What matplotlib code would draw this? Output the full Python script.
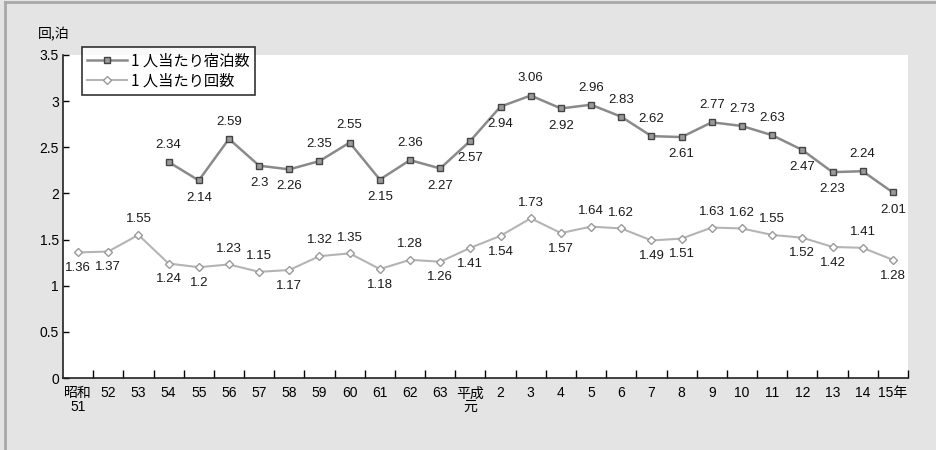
import matplotlib
matplotlib.use("Agg")
import matplotlib.pyplot as plt
from matplotlib.lines import Line2D

plt.rcParams['font.family'] = ['Noto Sans CJK JP', 'DejaVu Sans']

# 年次ラベル (昭和51年〜平成15年)
years = ["昭和\n51", "52", "53", "54", "55", "56", "57", "58", "59", "60",
         "61", "62", "63", "平成\n元", "2", "3", "4", "5", "6", "7", "8",
         "9", "10", "11", "12", "13", "14", "15年"]

# 1人当たり宿泊数 (昭和54年から)
stay_start = 3
stay_nights = [2.34, 2.14, 2.59, 2.3, 2.26, 2.35, 2.55, 2.15, 2.36, 2.27,
               2.57, 2.94, 3.06, 2.92, 2.96, 2.83, 2.62, 2.61, 2.77, 2.73,
               2.63, 2.47, 2.23, 2.24, 2.01]
# ラベル位置 (+1: 上, -1: 下)
stay_pos = [1, -1, 1, -1, -1, 1, 1, -1, 1, -1,
            -1, -1, 1, -1, 1, 1, 1, -1, 1, 1,
            1, -1, -1, 1, -1]

# 1人当たり回数
trips = [1.36, 1.37, 1.55, 1.24, 1.2, 1.23, 1.15, 1.17, 1.32, 1.35,
         1.18, 1.28, 1.26, 1.41, 1.54, 1.73, 1.57, 1.64, 1.62, 1.49,
         1.51, 1.63, 1.62, 1.55, 1.52, 1.42, 1.41, 1.28]
trips_pos = [-1, -1, 1, -1, -1, 1, 1, -1, 1, 1,
             -1, 1, -1, -1, -1, 1, -1, 1, 1, -1,
             -1, 1, 1, 1, -1, -1, 1, -1]

num_font = ["Liberation Sans", "DejaVu Sans"]

fig = plt.figure(figsize=(9.37, 4.5), dpi=100)
fig.patch.set_facecolor("#e4e4e4")
ax = fig.add_axes([0.0672, 0.16, 0.9018, 0.718])
ax.set_facecolor("white")

x_all = list(range(len(years)))
x_stay = list(range(stay_start, stay_start + len(stay_nights)))

ax.plot(x_stay, stay_nights, color="#8a8a8a", lw=1.8, marker="s", ms=5,
        mfc="#9a9a9a", mec="#444444", mew=1.0, label="1 人当たり宿泊数",
        zorder=3)
ax.plot(x_all, trips, color="#b4b4b4", lw=1.5, marker="D", ms=4.5,
        mfc="white", mec="#9a9a9a", mew=1.0, label="1 人当たり回数",
        zorder=3)

for xi, v, p in zip(x_stay, stay_nights, stay_pos):
    ax.annotate(f"{v:g}", (xi, v), xytext=(0, 8 * p), textcoords="offset points",
                ha="center", va="bottom" if p > 0 else "top", fontsize=9.5,
                family=num_font, color="#1a1a1a")
for xi, v, p in zip(x_all, trips, trips_pos):
    ax.annotate(f"{v:g}", (xi, v), xytext=(0, 7 * p), textcoords="offset points",
                ha="center", va="bottom" if p > 0 else "top", fontsize=9.5,
                family=num_font, color="#1a1a1a")

ax.set_xlim(-0.5, len(years) - 0.5)
ax.set_ylim(0, 3.5)
ax.set_yticks([0, 0.5, 1, 1.5, 2, 2.5, 3, 3.5])
ax.set_yticklabels(["0", "0.5", "1", "1.5", "2", "2.5", "3", "3.5"],
                   family=num_font, fontsize=10)
ax.set_xticks(x_all)
ax.set_xticklabels(years, fontsize=10, va="top", linespacing=0.95)
for t in ax.get_xticklabels():
    t.set_family(["Liberation Sans", "Noto Sans CJK JP"])
ax.set_xticks([i + 0.5 for i in x_all], minor=True)
ax.tick_params(axis="x", which="major", length=0, pad=6)
ax.tick_params(axis="x", which="minor", direction="in", length=6, width=1)
ax.tick_params(axis="y", direction="in", length=4, width=1, pad=3)

for s in ("top", "right"):
    ax.spines[s].set_visible(False)
for s in ("left", "bottom"):
    ax.spines[s].set_linewidth(1.2)
    ax.spines[s].set_color("#222222")

fig.text(0.040, 0.925, "回,泊", fontsize=10, ha="left", va="center")

leg = ax.legend(loc="upper left", bbox_to_anchor=(0.0225, 1.025), fontsize=11,
                frameon=True, fancybox=False, edgecolor="black",
                borderaxespad=0, borderpad=0.35, labelspacing=0.2,
                handlelength=2.6, handletextpad=0.25)
leg.get_frame().set_linewidth(1.2)
leg.set_zorder(5)

# 外枠
fig.add_artist(Line2D([0.0055, 0.0055], [0, 0.995], transform=fig.transFigure,
                      color="#a8a8a8", lw=2))
fig.add_artist(Line2D([0.0055, 1], [0.995, 0.995], transform=fig.transFigure,
                      color="#a8a8a8", lw=2))

fig.savefig("out.png", dpi=100, facecolor=fig.get_facecolor())
